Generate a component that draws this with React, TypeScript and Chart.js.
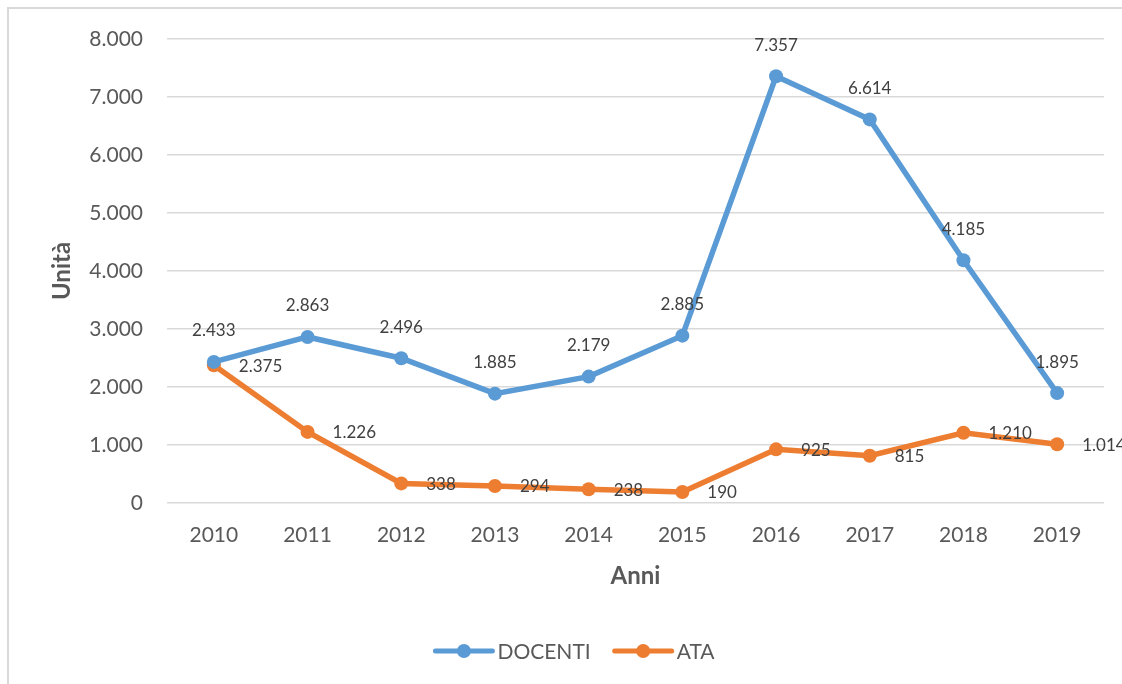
import React, { useEffect, useRef } from "react";
import { Chart, registerables } from "chart.js";

Chart.register(...registerables);

const years = ["2010", "2011", "2012", "2013", "2014", "2015", "2016", "2017", "2018", "2019"];
const docenti = [2433, 2863, 2496, 1885, 2179, 2885, 7357, 6614, 4185, 1895];
const ata = [2375, 1226, 338, 294, 238, 190, 925, 815, 1210, 1014];
const seriesNames = ["DOCENTI", "ATA"];
const seriesColors = ["#5b9bd5", "#ed7d31"];

const FONT = "Lato, 'Open Sans', sans-serif";
const fmt = (v: number) => String(v).replace(/\B(?=(\d{3})+(?!\d))/g, ".");

const labelsPlugin = {
  id: "valueLabels",
  afterDatasetsDraw(chart: any) {
    const ctx = chart.ctx;
    ctx.save();
    ctx.font = `17px ${FONT}`;
    ctx.fillStyle = "#404040";
    ctx.textBaseline = "middle";
    chart.data.datasets.forEach((ds: any, di: number) => {
      const meta = chart.getDatasetMeta(di);
      meta.data.forEach((pt: any, i: number) => {
        const txt = fmt(ds.data[i]);
        if (di === 0) {
          ctx.textAlign = "center";
          ctx.fillText(txt, pt.x, pt.y - 31);
        } else {
          ctx.textAlign = "left";
          ctx.fillText(txt, pt.x + 25, pt.y + 1);
        }
      });
    });
    ctx.restore();
  },
};

const legendPlugin = {
  id: "customLegend",
  afterDraw(chart: any) {
    const ctx = chart.ctx;
    ctx.save();
    ctx.font = `21px ${FONT}`;
    ctx.textBaseline = "middle";
    ctx.textAlign = "left";
    const y = 651;
    const lineW = 57;
    const gap = 5;
    const itemGap = 24;
    const widths = seriesNames.map((n) => lineW + gap + ctx.measureText(n).width);
    const total = widths.reduce((a, b) => a + b, 0) + itemGap * (seriesNames.length - 1);
    let x = 575 - total / 2;
    seriesNames.forEach((n, i) => {
      ctx.strokeStyle = seriesColors[i];
      ctx.lineWidth = 5;
      ctx.lineCap = "round";
      ctx.beginPath();
      ctx.moveTo(x, y);
      ctx.lineTo(x + lineW, y);
      ctx.stroke();
      ctx.fillStyle = seriesColors[i];
      ctx.beginPath();
      ctx.arc(x + lineW / 2, y, 7, 0, Math.PI * 2);
      ctx.fill();
      ctx.fillStyle = "#595959";
      ctx.fillText(n, x + lineW + gap, y + 1);
      x += widths[i] + itemGap;
    });
    ctx.restore();
  },
};

export default function App() {
  const ref = useRef<HTMLCanvasElement | null>(null);
  useEffect(() => {
    if (!ref.current) return;
    const chart = new Chart(ref.current, {
      type: "line",
      data: {
        labels: years,
        datasets: [
          {
            label: seriesNames[0],
            data: docenti,
            borderColor: seriesColors[0],
            backgroundColor: seriesColors[0],
            borderWidth: 5.5,
            pointRadius: 7,
            pointBorderWidth: 0,
            pointBackgroundColor: seriesColors[0],
            tension: 0,
          },
          {
            label: seriesNames[1],
            data: ata,
            borderColor: seriesColors[1],
            backgroundColor: seriesColors[1],
            borderWidth: 5.5,
            pointRadius: 7,
            pointBorderWidth: 0,
            pointBackgroundColor: seriesColors[1],
            tension: 0,
          },
        ],
      },
      options: {
        responsive: false,
        animation: false,
        layout: { padding: { left: 40, top: 39, right: 18, bottom: 93 } },
        plugins: { legend: { display: false }, tooltip: { enabled: false } },
        scales: {
          x: {
            offset: true,
            grid: { display: false, drawTicks: false },
            border: { display: false },
            ticks: { color: "#595959", font: { family: FONT, size: 21 }, padding: 20, maxRotation: 0 },
            title: {
              display: true,
              text: "Anni",
              color: "#595959",
              font: { family: FONT, size: 24, weight: "bold" },
              padding: { top: 0, bottom: 0 },
            },
            afterFit(scale: any) {
              scale.height = 88;
              scale.paddingLeft = 0;
              scale.paddingRight = 0;
            },
          },
          y: {
            min: 0,
            max: 8000,
            grid: { color: "#d9d9d9", lineWidth: 1.5, drawTicks: false },
            border: { display: false },
            ticks: {
              stepSize: 1000,
              color: "#595959",
              font: { family: FONT, size: 21 },
              padding: 24,
              callback: (v: any) => fmt(Number(v)),
            },
            title: {
              display: true,
              text: "Unità",
              color: "#595959",
              font: { family: FONT, size: 24, weight: "bold" },
              padding: { top: 8, bottom: 0 },
            },
            afterFit(scale: any) {
              scale.width = 127;
              scale.paddingTop = 0;
              scale.paddingBottom = 0;
            },
          },
        },
      },
      plugins: [labelsPlugin, legendPlugin],
    } as any);
    return () => chart.destroy();
  }, []);

  return (
    <div style={{ position: "fixed", left: 0, top: 0, width: 1122, height: 684, overflow: "hidden", background: "#fff" }}>
      <div
        style={{
          position: "absolute",
          left: 7,
          top: 7,
          width: 1200,
          height: 800,
          border: "2px solid #d9d9d9",
        }}
      />
      <canvas ref={ref} width={1122} height={684} style={{ position: "absolute", left: 0, top: 0, width: 1122, height: 684 }} />
    </div>
  );
}
